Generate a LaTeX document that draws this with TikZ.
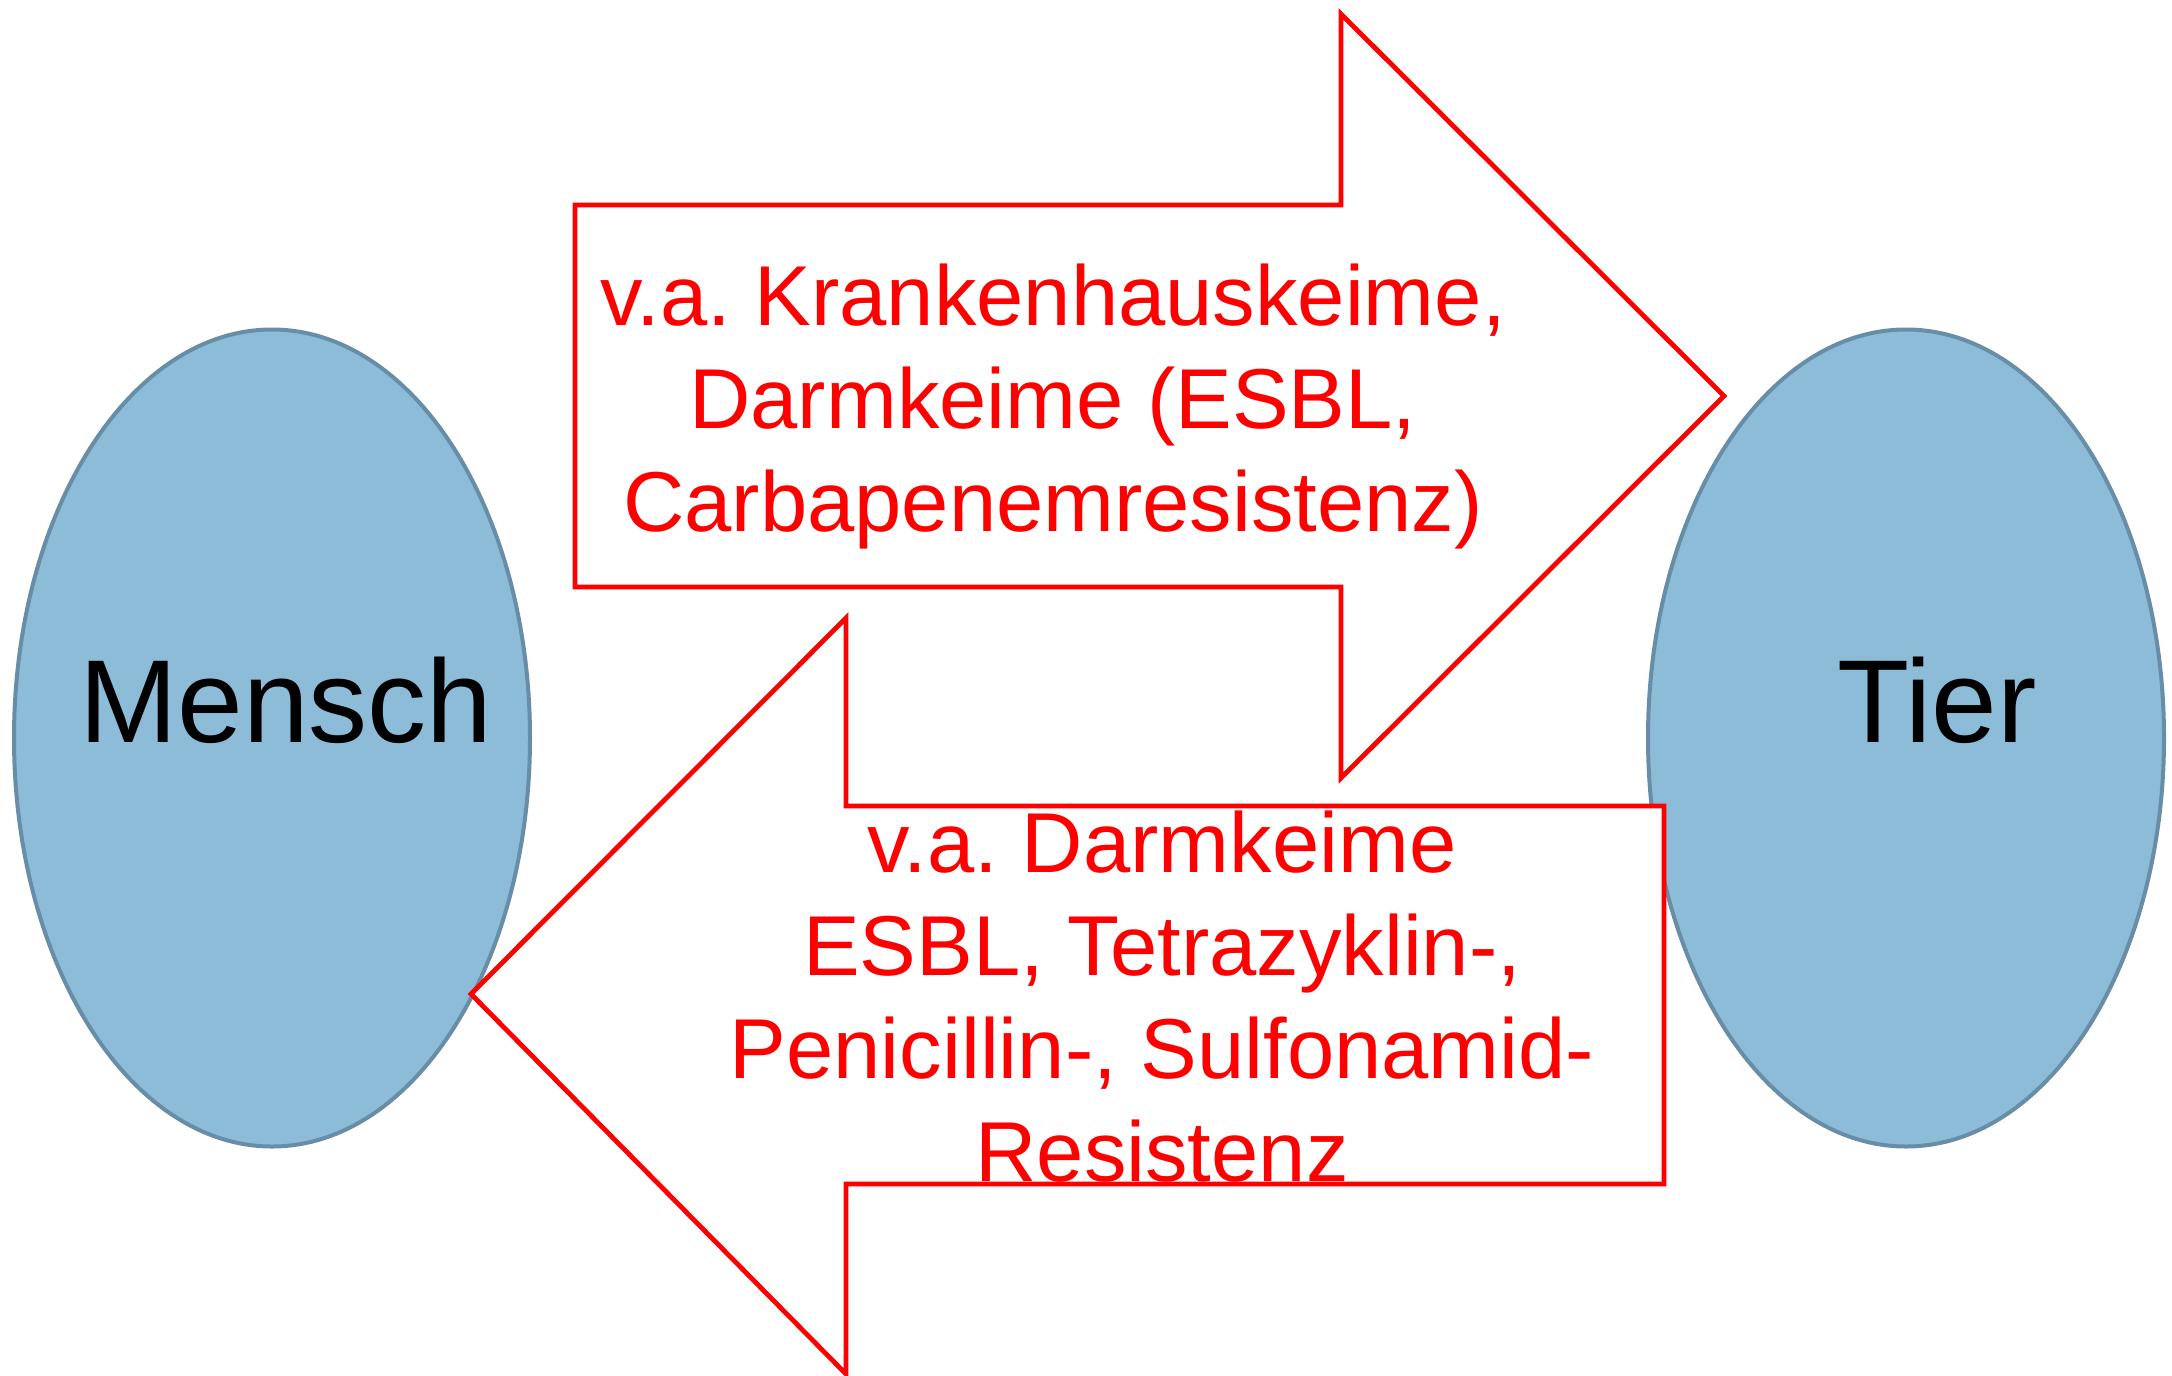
\documentclass[tikz,border=0pt]{standalone}
\usepackage{fontspec}
\setmainfont{Liberation Sans}
\frenchspacing
\usetikzlibrary{shapes.geometric}
\definecolor{ellfill}{RGB}{141,188,217}
\definecolor{elldraw}{RGB}{104,141,166}
\definecolor{arrred}{RGB}{255,0,0}
\tikzset{
  blob/.style={ellipse, draw=elldraw, fill=ellfill, line width=2pt, inner sep=0pt,
    minimum width=258pt, minimum height=408.5pt},
  bigarrow/.style={draw=arrred, fill=white, line width=2.4pt, line join=miter},
  redtext/.style={text=arrred, font=\fontsize{42.5}{51.5}\selectfont, align=center, inner sep=0pt, anchor=base},
  blacktext/.style={text=black, font=\fontsize{59}{70}\selectfont, inner sep=0pt, anchor=base}
}
\begin{document}
\begin{tikzpicture}[x=0.5pt,y=-0.5pt]
\useasboundingbox (0,0) rectangle (2172,1375);
\fill[white] (0,0) rectangle (2172,1375);
% ellipses
\node[blob] (mensch) at (272,738) {};
\node[blob] (tier) at (1906,738) {};
% upper arrow (Mensch -> Tier)
\path[bigarrow] (575,205) -- (1341,205) -- (1341,14) -- (1724,396) -- (1341,778) -- (1341,587) -- (575,587) -- cycle;
% lower arrow (Tier -> Mensch)
\path[bigarrow] (1664,806) -- (846,806) -- (846,618) -- (471,994) -- (846,1374) -- (846,1184) -- (1664,1184) -- cycle;
% labels (anchor base = baseline of the last line)
\node[blacktext] (menschtext) at (286,742) {Mensch};
\node[blacktext] (tiertext) at (1937,742) {Tier};
\node[redtext] (uppertext) at (1053,531) {v.a. Krankenhauskeime,\\Darmkeime (ESBL,\\Carbapenemresistenz)};
\node[redtext] (lowertext) at (1162,1181) {v.a. Darmkeime\\ESBL, Tetrazyklin-,\\Penicillin-, Sulfonamid-\\Resistenz};
\end{tikzpicture}
\end{document}
